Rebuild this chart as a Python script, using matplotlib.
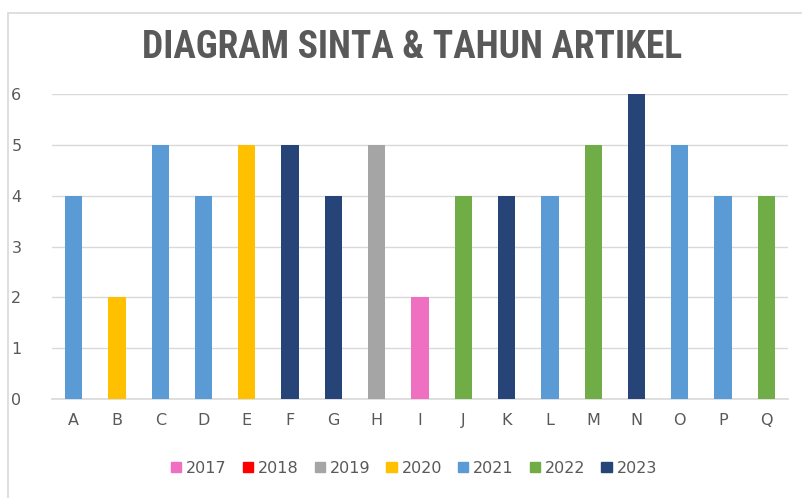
import matplotlib
matplotlib.use('Agg')
from matplotlib import pyplot as plt
from matplotlib import font_manager
from matplotlib.patches import Rectangle, Patch

categories = list('ABCDEFGHIJKLMNOPQ')
values = [4, 2, 5, 4, 5, 5, 4, 5, 2, 4, 4, 4, 5, 6, 5, 4, 4]
years = ['2021', '2020', '2021', '2021', '2020', '2023', '2023', '2019', '2017',
         '2022', '2023', '2021', '2022', '2023', '2021', '2021', '2022']
legend_years = ['2017', '2018', '2019', '2020', '2021', '2022', '2023']
year_colors = {'2017': '#EF6FC0', '2018': '#FF0000', '2019': '#A5A5A5',
               '2020': '#FFC000', '2021': '#5B9BD5', '2022': '#70AD47',
               '2023': '#264478'}

text_col = '#595959'

# look for a narrow font for the title
names = {f.name for f in font_manager.fontManager.ttflist}
narrow = [n for n in ['Roboto Condensed', 'Liberation Sans Narrow', 'Open Sans Condensed'] if n in names]

fig = plt.figure(figsize=(8.02, 4.98), dpi=100)
fig.patches.append(Rectangle((8 / 802, -0.05), 1.1, 1.05 - 13 / 498, transform=fig.transFigure,
                             fill=False, edgecolor='#D9D9D9', linewidth=1.2))

ax = fig.add_axes([52 / 802, 1 - 399 / 498, 736 / 802, 305 / 498])
x = range(len(categories))
ax.bar(x, values, width=0.4, color=[year_colors[y] for y in years], zorder=3)
ax.set_xlim(-0.5, len(categories) - 0.5)
ax.set_ylim(0, 6)
ax.set_yticks(range(7))
ax.set_xticks(list(x))
ax.set_xticklabels(categories)
ax.grid(axis='y', color='#D9D9D9', linewidth=1, zorder=0)
for s in ['top', 'right', 'left']:
    ax.spines[s].set_visible(False)
ax.spines['bottom'].set_color('#D9D9D9')
ax.spines['bottom'].set_linewidth(1.2)
ax.tick_params(length=0, labelsize=11.5, colors=text_col, pad=10)
ax.tick_params(axis='y', pad=22)

if narrow:
    fig.text(412 / 802, 1 - 48 / 498, 'DIAGRAM SINTA & TAHUN ARTIKEL', ha='center', va='center',
             fontsize=27, fontweight='bold', color=text_col, family=narrow + ['DejaVu Sans'])
else:
    fig.text(412 / 802, 1 - 48 / 498, 'DIAGRAM SINTA & TAHUN ARTIKEL', ha='center', va='center',
             fontsize=23, fontweight='bold', color=text_col, family='DejaVu Sans',
             fontstretch='condensed')

handles = [Patch(color=year_colors[y], label=y) for y in legend_years]
fig.legend(handles=handles, loc='center', bbox_to_anchor=(414 / 802, 1 - 468 / 498), ncol=7,
           frameon=False, fontsize=11.5, labelcolor=text_col, handlelength=0.65,
           handleheight=0.65, handletextpad=0.3, columnspacing=1.0)

fig.savefig('out.png', dpi=100)
